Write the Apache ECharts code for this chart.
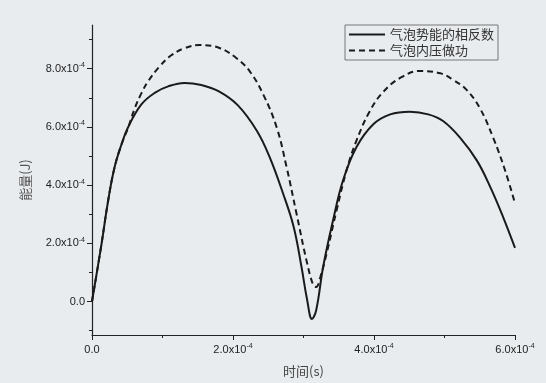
<!DOCTYPE html>
<html>
<head>
<meta charset="utf-8">
<script src="https://cdn.jsdelivr.net/npm/echarts@6/dist/echarts.min.js"></script>
<style>
  html, body { margin: 0; padding: 0; background: #e8ecef; }
  #chart { width: 546px; height: 383px; }
</style>
</head>
<body>
<div id="chart"></div>
<script>
// values in units of 1e-4 (time in s, energy in J)
const seriesNames = ['气泡势能的相反数', '气泡内压做功'];

const potentialNeg = [
  [0, 0], [0.13, 1.9], [0.23, 3.48], [0.32, 4.61], [0.42, 5.41], [0.51, 5.98],
  [0.7, 6.77], [0.89, 7.17], [1.08, 7.39], [1.31, 7.51], [1.55, 7.44],
  [1.8, 7.22], [2.07, 6.74], [2.34, 5.86], [2.52, 4.96], [2.71, 3.71],
  [2.86, 2.57], [2.97, 1.21], [3.05, 0.08], [3.12, -0.6], [3.18, -0.3],
  [3.28, 1.21], [3.42, 2.8], [3.56, 4.16], [3.75, 5.3], [3.99, 6.09],
  [4.23, 6.43], [4.51, 6.52], [4.77, 6.43], [4.98, 6.2], [5.22, 5.63],
  [5.46, 4.84], [5.65, 3.93], [5.83, 2.91], [6.0, 1.84]
];

const pressureWork = [
  [0, 0], [0.13, 1.9], [0.23, 3.48], [0.32, 4.61], [0.42, 5.41], [0.51, 5.95],
  [0.6, 6.6], [0.7, 7.15], [0.8, 7.58], [0.95, 8.05], [1.12, 8.45],
  [1.31, 8.7], [1.53, 8.81], [1.8, 8.72], [2.05, 8.36], [2.24, 7.9],
  [2.43, 7.11], [2.62, 5.98], [2.76, 4.62], [2.9, 3.03], [3.05, 1.33],
  [3.14, 0.55], [3.18, 0.5], [3.24, 0.85], [3.33, 1.67], [3.47, 3.14],
  [3.61, 4.5], [3.75, 5.52], [3.94, 6.54], [4.13, 7.2], [4.37, 7.68],
  [4.65, 7.92], [4.94, 7.84], [5.12, 7.62], [5.31, 7.28], [5.5, 6.65],
  [5.69, 5.63], [5.86, 4.5], [6.0, 3.37]
];

const yTicks = [0, 2, 4, 6, 8];
const yMinorTicks = [-1, 1, 3, 5, 7, 9];

function sciLabel(v) {
  if (v === 0) return '{m|0.0}';
  return '{m|' + v.toFixed(1) + 'x10}{s|-4}';
}

const labelRich = {
  m: { fontFamily: 'Liberation Sans', fontSize: 11, color: '#222', lineHeight: 14 },
  s: { fontFamily: 'Liberation Sans', fontSize: 7, color: '#222', lineHeight: 14, verticalAlign: 'top' }
};

const chart = echarts.init(document.getElementById('chart'));

chart.setOption({
  backgroundColor: '#e8ecef',
  animation: false,
  legend: {
    orient: 'vertical',
    left: 345,
    top: 25,
    data: seriesNames,
    itemWidth: 36,
    itemHeight: 10,
    itemGap: 3,
    padding: [3, 4, 3, 3],
    borderColor: '#777',
    borderWidth: 1,
    itemStyle: { opacity: 0 },
    textStyle: { fontFamily: 'Noto Sans CJK SC', fontSize: 13, color: '#333' }
  },
  grid: { left: 92, right: 31, top: 25, bottom: 45 },
  xAxis: {
    type: 'value',
    min: 0,
    max: 6,
    interval: 2,
    name: '时间(s)',
    nameLocation: 'middle',
    nameGap: 30,
    nameTextStyle: { fontFamily: 'Noto Sans CJK SC', fontSize: 13, color: '#444' },
    axisLine: { onZero: false, lineStyle: { color: '#222', width: 1.2 } },
    axisTick: { inside: false, length: 5, lineStyle: { color: '#222' } },
    minorTick: { show: true, splitNumber: 2, length: 3, lineStyle: { color: '#222' } },
    splitLine: { show: false },
    axisLabel: { margin: 8, formatter: sciLabel, rich: labelRich }
  },
  yAxis: [
    {
      type: 'value',
      min: -1.15,
      max: 9.5,
      name: '能量(J)',
      nameLocation: 'middle',
      nameRotate: 90,
      nameGap: 60,
      nameTextStyle: { fontFamily: 'Noto Sans CJK SC', fontSize: 13, color: '#555' },
      axisLine: { show: true, onZero: false, lineStyle: { color: '#222', width: 1.2 } },
      axisTick: { show: true, length: 5, customValues: yTicks, lineStyle: { color: '#222' } },
      splitLine: { show: false },
      axisLabel: { margin: 7, customValues: yTicks, formatter: sciLabel, rich: labelRich }
    },
    {
      type: 'value',
      position: 'left',
      min: -1.15,
      max: 9.5,
      axisLine: { show: false },
      axisTick: { show: true, length: 3, customValues: yMinorTicks, lineStyle: { color: '#222' } },
      splitLine: { show: false },
      axisLabel: { show: false }
    }
  ],
  series: [
    {
      name: seriesNames[0],
      type: 'line',
      data: potentialNeg,
      smooth: 0.4,
      symbol: 'none',
      itemStyle: { color: '#1a1a1a' },
      lineStyle: { color: '#1a1a1a', width: 2 }
    },
    {
      name: seriesNames[1],
      type: 'line',
      data: pressureWork,
      smooth: 0.4,
      symbol: 'none',
      itemStyle: { color: '#1a1a1a' },
      lineStyle: { color: '#1a1a1a', width: 2, type: [6, 4] }
    }
  ]
});
</script>
</body>
</html>
